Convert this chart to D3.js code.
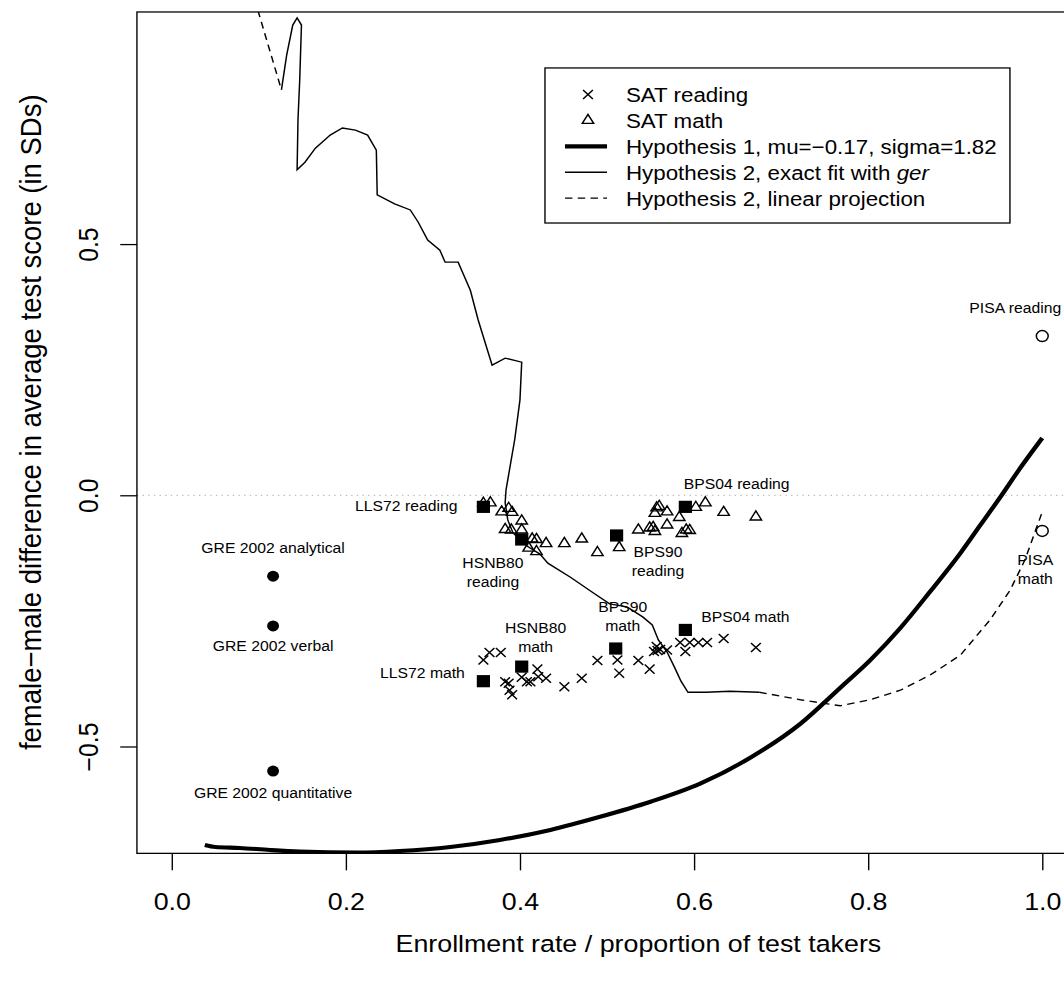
<!DOCTYPE html>
<html>
<head>
<meta charset="utf-8">
<script src="https://cdn.jsdelivr.net/npm/d3@7"></script>
<style>
  body { margin: 0; background: #fff; }
  text { font-family: "Liberation Sans", Arial, Helvetica, sans-serif; fill: #000; }
</style>
</head>
<body>
<svg id="chart" width="1064" height="982"></svg>
<script>
// ---- Axis ticks ----
const xTickValues = [0, 0.2, 0.4, 0.6, 0.8, 1.0];
const xTickLabels = ["0.0", "0.2", "0.4", "0.6", "0.8", "1.0"];
const yTickValues = [-0.5, 0, 0.5];
const yTickLabels = ["\u22120.5", "0.0", "0.5"];

// ---- SAT state results (enrollment share, female-male gap) ----
const satReadingX = [0.358, 0.365, 0.378, 0.383, 0.387, 0.388, 0.391, 0.402, 0.408, 0.412, 0.420, 0.421,
  0.430, 0.451, 0.471, 0.489, 0.512, 0.514, 0.536, 0.549, 0.554, 0.558, 0.561, 0.569, 0.557, 0.584,
  0.590, 0.595, 0.605, 0.615, 0.634, 0.671];
const satReadingY = [-0.328, -0.313, -0.313, -0.371, -0.374, -0.388, -0.397, -0.362, -0.371, -0.371, -0.346, -0.361,
  -0.364, -0.381, -0.364, -0.329, -0.328, -0.354, -0.329, -0.346, -0.311, -0.309, -0.307, -0.308, -0.301, -0.293,
  -0.311, -0.293, -0.293, -0.293, -0.285, -0.303];

const satMathX = [0.358, 0.366, 0.379, 0.387, 0.391, 0.402, 0.383, 0.390, 0.402, 0.414, 0.419, 0.430,
  0.410, 0.419, 0.451, 0.471, 0.489, 0.514, 0.536, 0.549, 0.553, 0.555, 0.569, 0.557, 0.560, 0.555,
  0.569, 0.583, 0.586, 0.591, 0.595, 0.602, 0.613, 0.634, 0.671];
const satMathY = [-0.016, -0.015, -0.033, -0.026, -0.034, -0.051, -0.068, -0.069, -0.069, -0.087, -0.088, -0.096,
  -0.105, -0.112, -0.096, -0.087, -0.114, -0.104, -0.069, -0.065, -0.064, -0.072, -0.059, -0.025, -0.022, -0.036,
  -0.033, -0.044, -0.076, -0.069, -0.070, -0.024, -0.015, -0.034, -0.043];

// ---- Longitudinal surveys ----
const studyNames = ["LLS72 reading", "HSNB80 reading", "BPS90 reading", "BPS04 reading",
  "LLS72 math", "HSNB80 math", "BPS90 math", "BPS04 math"];
const studyX = [0.358, 0.402, 0.511, 0.590, 0.358, 0.402, 0.510, 0.590];
const studyY = [-0.023, -0.088, -0.080, -0.023, -0.370, -0.341, -0.305, -0.268];

// ---- GRE and PISA ----
const greNames = ["GRE 2002 analytical", "GRE 2002 verbal", "GRE 2002 quantitative"];
const greX = [0.1164, 0.1164, 0.1164];
const greY = [-0.161, -0.260, -0.549];
const pisaNames = ["PISA reading", "PISA math"];
const pisaX = [1.0, 1.0];
const pisaY = [0.317, -0.071];

// ---- Hypothesis 1 curve ----
const hyp1X = [0.038, 0.050, 0.078, 0.113, 0.147, 0.213, 0.262, 0.320, 0.377, 0.435, 0.492, 0.550,
  0.607, 0.664, 0.722, 0.768, 0.803, 0.837, 0.871, 0.906, 0.929, 0.952, 0.975, 1.0];
const hyp1Y = [-0.696, -0.700, -0.702, -0.706, -0.709, -0.711, -0.708, -0.700, -0.686, -0.666, -0.640, -0.610,
  -0.574, -0.523, -0.455, -0.383, -0.327, -0.264, -0.192, -0.115, -0.059, -0.003, 0.055, 0.114];

// ---- Hypothesis 2, exact fit ----
const hyp2FitX = [0.126, 0.132, 0.139, 0.144, 0.149, 0.147, 0.145, 0.144, 0.153, 0.165, 0.182, 0.196,
  0.211, 0.225, 0.235, 0.236, 0.256, 0.274, 0.283, 0.294, 0.308, 0.314, 0.329, 0.333, 0.343, 0.352,
  0.368, 0.383, 0.402, 0.400, 0.394, 0.389, 0.384, 0.383, 0.386, 0.392, 0.408, 0.423, 0.432, 0.458,
  0.484, 0.503, 0.523, 0.541, 0.552, 0.559, 0.569, 0.578, 0.585, 0.593, 0.614, 0.641, 0.675];
const hyp2FitY = [0.807, 0.876, 0.936, 0.950, 0.936, 0.827, 0.747, 0.648, 0.663, 0.691, 0.717, 0.731,
  0.727, 0.717, 0.687, 0.598, 0.580, 0.568, 0.544, 0.508, 0.488, 0.464, 0.464, 0.448, 0.408, 0.349,
  0.259, 0.273, 0.265, 0.190, 0.111, 0.061, 0.011, -0.015, -0.049, -0.075, -0.101, -0.117, -0.135, -0.163,
  -0.194, -0.216, -0.222, -0.242, -0.258, -0.288, -0.312, -0.344, -0.370, -0.392, -0.392, -0.390, -0.392];

// ---- Hypothesis 2, linear projection (both ends) ----
const hyp2ProjX = [0.675, 0.722, 0.768, 0.802, 0.837, 0.871, 0.906, 0.940, 0.963, 0.980, 1.0];
const hyp2ProjY = [-0.392, -0.407, -0.419, -0.407, -0.388, -0.358, -0.318, -0.248, -0.189, -0.129, -0.033];
const hyp2TopX = [0.099, 0.126];
const hyp2TopY = [0.965, 0.807];

// ---- Legend ----
const legendLabels = ["SAT reading", "SAT math", "Hypothesis 1, mu=\u22120.17, sigma=1.82",
  "Hypothesis 2, exact fit with ", "Hypothesis 2, linear projection"];

// ---- Annotation placement (data units, block centre) ----
const notes = [
  { lines: ["LLS72 reading"], x: 0.2694, y: -0.021 },
  { lines: ["HSNB80", "reading"], x: 0.369, y: -0.154 },
  { lines: ["BPS90", "reading"], x: 0.5586, y: -0.132 },
  { lines: ["BPS04 reading"], x: 0.649, y: 0.0225 },
  { lines: ["LLS72 math"], x: 0.288, y: -0.354 },
  { lines: ["HSNB80", "math"], x: 0.418, y: -0.2836 },
  { lines: ["BPS90", "math"], x: 0.518, y: -0.2414 },
  { lines: ["BPS04 math"], x: 0.659, y: -0.242 },
  { lines: ["GRE 2002 analytical"], x: 0.1164, y: -0.105 },
  { lines: ["GRE 2002 verbal"], x: 0.1164, y: -0.300 },
  { lines: ["GRE 2002 quantitative"], x: 0.1164, y: -0.593 },
  { lines: ["PISA reading"], x: 0.969, y: 0.373 },
  { lines: ["PISA", "math"], x: 0.992, y: -0.148 }
];

// ---------------------------------------------------------------
const svg = d3.select("#chart");
svg.append("rect").attr("width", 1064).attr("height", 982).attr("fill", "#fff");
// drawing space is 1000 x 1000, stretched onto the page
const g = svg.append("g").attr("transform", "scale(1.064,0.982)");

const plot = { left: 128.7, right: 1012.3, top: 12.2, bottom: 869 };
const x = d3.scaleLinear().domain([-0.04, 1.04]).range([plot.left, plot.right]);
const y = d3.scaleLinear().domain([-0.7127, 0.962]).range([plot.bottom, plot.top]);

g.append("clipPath").attr("id", "plotclip")
  .append("rect").attr("x", plot.left).attr("y", plot.top)
  .attr("width", plot.right - plot.left).attr("height", plot.bottom - plot.top);

const inner = g.append("g").attr("clip-path", "url(#plotclip)");

// zero reference line
inner.append("line")
  .attr("x1", plot.left).attr("x2", plot.right)
  .attr("y1", y(0)).attr("y2", y(0))
  .attr("stroke", "#bebebe").attr("stroke-width", 1.3)
  .attr("stroke-dasharray", "1.3,4");

const line = d3.line().x(d => x(d[0])).y(d => y(d[1]));
const smooth = d3.line().x(d => x(d[0])).y(d => y(d[1])).curve(d3.curveMonotoneX);
const zip = (a, b) => a.map((v, i) => [v, b[i]]);

inner.append("path").datum(zip(hyp1X, hyp1Y)).attr("d", smooth)
  .attr("fill", "none").attr("stroke", "#000").attr("stroke-width", 4.2)
  .attr("stroke-linejoin", "round");
inner.append("path").datum(zip(hyp2FitX, hyp2FitY)).attr("d", line)
  .attr("fill", "none").attr("stroke", "#000").attr("stroke-width", 1.4);
[zip(hyp2ProjX, hyp2ProjY), zip(hyp2TopX, hyp2TopY)].forEach(pts => {
  inner.append("path").datum(pts).attr("d", line)
    .attr("fill", "none").attr("stroke", "#000").attr("stroke-width", 1.4)
    .attr("stroke-dasharray", "7,5");
});

// symbol helpers
const tri = (r) => { const h = r, xc = r * Math.sqrt(3) / 2, yc = r / 2;
  return `M0,${-h}L${xc},${yc}L${-xc},${yc}Z`; };
const cross = (r) => `M${-r},${-r}L${r},${r}M${-r},${r}L${r},${-r}`;

inner.selectAll(".satm").data(zip(satMathX, satMathY)).join("path")
  .attr("transform", d => `translate(${x(d[0])},${y(d[1])})`)
  .attr("d", tri(6.2)).attr("fill", "none").attr("stroke", "#000").attr("stroke-width", 1.4);
inner.selectAll(".satr").data(zip(satReadingX, satReadingY)).join("path")
  .attr("transform", d => `translate(${x(d[0])},${y(d[1])})`)
  .attr("d", cross(4.6)).attr("fill", "none").attr("stroke", "#000").attr("stroke-width", 1.4);

inner.selectAll(".study").data(zip(studyX, studyY)).join("rect")
  .attr("x", d => x(d[0]) - 6.2).attr("y", d => y(d[1]) - 6.2)
  .attr("width", 12.4).attr("height", 12.4).attr("fill", "#000");

inner.selectAll(".gre").data(zip(greX, greY)).join("circle")
  .attr("cx", d => x(d[0])).attr("cy", d => y(d[1])).attr("r", 5.6).attr("fill", "#000");
inner.selectAll(".pisa").data(zip(pisaX, pisaY)).join("circle")
  .attr("cx", d => x(d[0])).attr("cy", d => y(d[1])).attr("r", 5.6)
  .attr("fill", "none").attr("stroke", "#000").attr("stroke-width", 1.4);

// annotations
const noteSize = 14.8, noteLead = 19.4;
notes.forEach(n => {
  const t = g.append("text").attr("text-anchor", "middle").attr("font-size", noteSize);
  const n0 = (n.lines.length - 1) / 2;
  n.lines.forEach((s, i) => {
    t.append("tspan").attr("x", x(n.x))
      .attr("y", y(n.y) + (i - n0) * noteLead + 0.358 * noteSize).text(s);
  });
});

// box
g.append("rect").attr("x", plot.left).attr("y", plot.top)
  .attr("width", plot.right - plot.left).attr("height", plot.bottom - plot.top)
  .attr("fill", "none").attr("stroke", "#000").attr("stroke-width", 1.3);

// axes
const tickFont = 25.2;
const xAxis = d3.axisBottom(x).tickValues(xTickValues)
  .tickFormat((d, i) => xTickLabels[i]).tickSize(17.3).tickPadding(22);
const gx = g.append("g").attr("transform", `translate(0,${plot.bottom})`).call(xAxis);
gx.select(".domain").remove();
gx.selectAll("line").attr("stroke", "#000").attr("stroke-width", 1.3);
gx.selectAll("text").attr("font-size", tickFont).attr("font-family", null);

const yAxis = d3.axisLeft(y).tickValues(yTickValues)
  .tickFormat((d, i) => yTickLabels[i]).tickSize(15.7).tickPadding(0);
const gy = g.append("g").attr("transform", `translate(${plot.left},0)`).call(yAxis);
gy.select(".domain").remove();
gy.selectAll("line").attr("stroke", "#000").attr("stroke-width", 1.3);
gy.selectAll("text").attr("font-size", tickFont).attr("font-family", null)
  .attr("x", null).attr("dy", null).attr("text-anchor", "middle")
  .attr("transform", function () { return `translate(${83 - plot.left + 9},0) rotate(-90)`; });

// axis titles
g.append("text").attr("x", 600).attr("y", 960 + 9).attr("text-anchor", "middle")
  .attr("font-size", tickFont).text("Enrollment rate / proportion of test takers");
g.append("text").attr("transform", `translate(${28.2 + 10},430) rotate(-90)`)
  .attr("text-anchor", "middle").attr("font-size", 28)
  .text("female\u2212male difference in average test score (in SDs)");

// legend
const lg = { left: 512.2, top: 69.2, right: 949.2, bottom: 227.1 };
g.append("rect").attr("x", lg.left).attr("y", lg.top)
  .attr("width", lg.right - lg.left).attr("height", lg.bottom - lg.top)
  .attr("fill", "#fff").attr("stroke", "#000").attr("stroke-width", 1.3);
const legFont = 21, rowY = i => 96.2 + 26.4 * i, symX = 552.6, txtX = 588.3;
legendLabels.forEach((s, i) => {
  const t = g.append("text").attr("x", txtX).attr("y", rowY(i) + 0.358 * legFont)
    .attr("font-size", legFont).text(s);
  if (i === 3) t.append("tspan").attr("font-style", "italic").text("ger");
});
g.append("path").attr("transform", `translate(${symX},${rowY(0)})`).attr("d", cross(4.6))
  .attr("fill", "none").attr("stroke", "#000").attr("stroke-width", 1.4);
g.append("path").attr("transform", `translate(${symX},${rowY(1)})`).attr("d", tri(6.2))
  .attr("fill", "none").attr("stroke", "#000").attr("stroke-width", 1.4);
[[4.2, null], [1.4, null], [1.4, "7,5"]].forEach((st, k) => {
  const l = g.append("line").attr("x1", 531).attr("x2", 570.5)
    .attr("y1", rowY(k + 2)).attr("y2", rowY(k + 2))
    .attr("stroke", "#000").attr("stroke-width", st[0]);
  if (st[1]) l.attr("stroke-dasharray", st[1]);
});
</script>
</body>
</html>
